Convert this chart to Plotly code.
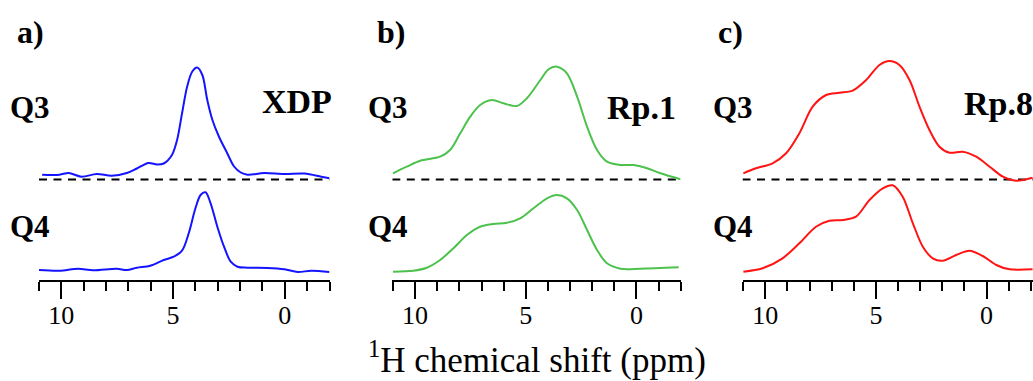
import plotly.graph_objects as go

# ---------------- data ----------------
panel_labels = ["a)", "b)", "c)"]
sample_names = ["XDP", "Rp.1", "Rp.8"]
series_names = ["Q3", "Q4"]
tick_values = [10, 5, 0]
tick_labels = ["10", "5", "0"]

# Panel a (XDP)
xdp_q3_ppm = [10.86, 10.08, 9.67, 9.1, 8.42, 7.75, 7.07, 6.62, 6.1, 5.72, 5.42, 5.05, 4.82, 4.6,
              4.37, 4.14, 3.92, 3.69, 3.47, 3.24, 2.95, 2.57, 2.27, 1.97, 1.67, 0.92, 0.02,
              -0.88, -1.63, -2.0]
xdp_q3_int = [0.048, 0.048, 0.065, 0.028, 0.055, 0.038, 0.065, 0.11, 0.165, 0.15, 0.16, 0.245,
              0.395, 0.66, 0.93, 1.08, 1.12, 1.045, 0.795, 0.595, 0.43, 0.26, 0.13, 0.07, 0.048,
              0.065, 0.055, 0.06, 0.028, 0.012]
xdp_q4_ppm = [11.0, 10.08, 9.25, 8.58, 7.52, 7.07, 6.62, 6.02, 5.42, 4.97, 4.6, 4.3, 4.0, 3.77,
              3.55, 3.32, 3.02, 2.72, 2.42, 2.12, 1.67, 0.77, 0.02, -0.58, -1.18, -2.0]
xdp_q4_int = [0.02, 0.013, 0.033, 0.017, 0.033, 0.02, 0.043, 0.063, 0.12, 0.153, 0.213, 0.387,
              0.637, 0.77, 0.797, 0.687, 0.453, 0.253, 0.103, 0.053, 0.043, 0.04, 0.027, 0.0,
              0.013, 0.0]

# Panel b (Rp.1)
rp1_q3_ppm = [11.0, 10.38, 9.77, 8.87, 8.42, 7.96, 7.51, 7.06, 6.53, 6.0, 5.4, 4.95, 4.34, 3.97,
              3.59, 3.14, 2.68, 2.23, 1.78, 1.33, 0.72, 0.12, -0.48, -1.09, -1.99]
rp1_q3_int = [0.062, 0.128, 0.188, 0.228, 0.295, 0.462, 0.628, 0.745, 0.795, 0.762, 0.735, 0.812,
              0.995, 1.102, 1.128, 1.062, 0.828, 0.528, 0.295, 0.178, 0.145, 0.145, 0.112, 0.062,
              0.002]
rp1_q4_ppm = [11.0, 10.08, 9.47, 8.87, 8.27, 7.66, 7.06, 6.46, 5.85, 5.25, 4.65, 4.04, 3.59, 3.14,
              2.68, 2.23, 1.78, 1.33, 0.72, -0.18, -1.91]
rp1_q4_int = [0.003, 0.013, 0.043, 0.12, 0.237, 0.37, 0.453, 0.48, 0.493, 0.537, 0.637, 0.737,
              0.77, 0.737, 0.62, 0.42, 0.22, 0.087, 0.033, 0.033, 0.047]

# Panel c (Rp.8)
rp8_q3_ppm = [10.99, 10.42, 9.67, 9.06, 8.46, 7.86, 7.25, 6.65, 6.05, 5.44, 4.84, 4.39, 3.94,
              3.48, 3.03, 2.58, 2.13, 1.67, 1.07, 0.47, -0.14, -0.74, -1.34, -2.08]
rp8_q3_int = [0.062, 0.112, 0.162, 0.262, 0.462, 0.728, 0.845, 0.868, 0.888, 0.995, 1.145, 1.185,
              1.145, 0.995, 0.728, 0.495, 0.328, 0.268, 0.278, 0.228, 0.128, 0.028, -0.012, 0.018]
rp8_q4_ppm = [10.99, 10.12, 9.22, 8.46, 7.71, 7.1, 6.5, 5.9, 5.29, 4.69, 4.24, 3.79, 3.33, 2.88,
              2.43, 1.98, 1.37, 0.77, 0.17, -0.44, -1.04, -2.08]
rp8_q4_int = [0.003, 0.037, 0.137, 0.287, 0.453, 0.513, 0.52, 0.553, 0.72, 0.837, 0.867, 0.753,
              0.487, 0.253, 0.137, 0.113, 0.17, 0.213, 0.16, 0.07, 0.027, 0.027]

# ---------------- styling / layout ----------------
W, H = 1033, 381
Q3_OFFSET = 0.925
colors = ["#1414ff", "#4cc24c", "#ff1414"]
x_domains = [[39.0 / W, 329.5 / W], [392.3 / W, 680.7 / W], [742.5 / W, 1.0]]
x_ranges = [[11.0, -2.0], [11.03, -2.0], [11.03, -2.1]]
y_domain = [(H - 279.5) / H, (H - 40) / H]
y_range = [-0.075, 2.32]

panels = [
    (xdp_q3_ppm, xdp_q3_int, xdp_q4_ppm, xdp_q4_int),
    (rp1_q3_ppm, rp1_q3_int, rp1_q4_ppm, rp1_q4_int),
    (rp8_q3_ppm, rp8_q3_int, rp8_q4_ppm, rp8_q4_int),
]

fig = go.Figure()
serif = "Liberation Serif"

for i, (q3x, q3y, q4x, q4y) in enumerate(panels):
    xa = "x" if i == 0 else f"x{i+1}"
    ya = "y" if i == 0 else f"y{i+1}"
    xr = x_ranges[i]
    # dashed baseline of Q3
    fig.add_trace(go.Scatter(x=[xr[0], xr[1]], y=[Q3_OFFSET, Q3_OFFSET], mode="lines",
                             line=dict(color="black", width=2, dash="8px,6.5px"),
                             xaxis=xa, yaxis=ya, showlegend=False, hoverinfo="skip"))
    fig.add_trace(go.Scatter(x=q3x, y=[v + Q3_OFFSET for v in q3y], mode="lines",
                             line=dict(color=colors[i], width=2, shape="spline", smoothing=0.9),
                             xaxis=xa, yaxis=ya, showlegend=False, name=series_names[0]))
    fig.add_trace(go.Scatter(x=q4x, y=q4y, mode="lines",
                             line=dict(color=colors[i], width=2, shape="spline", smoothing=0.9),
                             xaxis=xa, yaxis=ya, showlegend=False, name=series_names[1]))

    axkey = "xaxis" if i == 0 else f"xaxis{i+1}"
    aykey = "yaxis" if i == 0 else f"yaxis{i+1}"
    fig.update_layout(**{
        axkey: dict(domain=x_domains[i], range=xr, anchor=ya,
                    showline=True, linecolor="black", linewidth=2,
                    showgrid=False, zeroline=False,
                    tickmode="array", tickvals=tick_values, ticktext=tick_labels,
                    ticks="outside", ticklen=17, tickwidth=2, tickcolor="black",
                    ticklabelstandoff=-6,
                    tickfont=dict(family=serif, size=26, color="black"),
                    minor=dict(dtick=1, tick0=0, ticks="outside", ticklen=9,
                               tickwidth=2, tickcolor="black", showgrid=False)),
        aykey: dict(domain=y_domain, range=y_range, anchor=xa, visible=False),
    })

def px(x, y):
    return x / W, 1 - y / H

annotations = []
def add_text(text, x, y, size, bold=True, xanchor="center"):
    ax, ay = px(x, y)
    t = f"<b>{text}</b>" if bold else text
    annotations.append(dict(text=t, x=ax, y=ay, xref="paper", yref="paper",
                            xanchor=xanchor, yanchor="middle", showarrow=False,
                            font=dict(family=serif, size=size, color="black")))

label_x = [15, 375, 716]
q_x = [8, 366, 711]
for i in range(3):
    add_text(panel_labels[i], label_x[i], 32, 32, xanchor="left")
    add_text(series_names[0], q_x[i], 108, 31, xanchor="left")
    add_text(series_names[1], q_x[i], 226, 31, xanchor="left")
add_text(sample_names[0], 334, 102, 34, xanchor="right")
add_text(sample_names[1], 678, 107, 34, xanchor="right")
add_text(sample_names[2], 962, 103, 34, xanchor="left")
add_text("<sup>1</sup>H chemical shift (ppm)", 537, 357, 35, bold=False)

fig.update_layout(width=W, height=H, margin=dict(l=0, r=0, t=0, b=0),
                  paper_bgcolor="white", plot_bgcolor="white",
                  annotations=annotations, showlegend=False)

fig.write_html("out.html", config={"displayModeBar": False},
               post_script="document.body.style.margin='0';document.body.style.padding='0';")
